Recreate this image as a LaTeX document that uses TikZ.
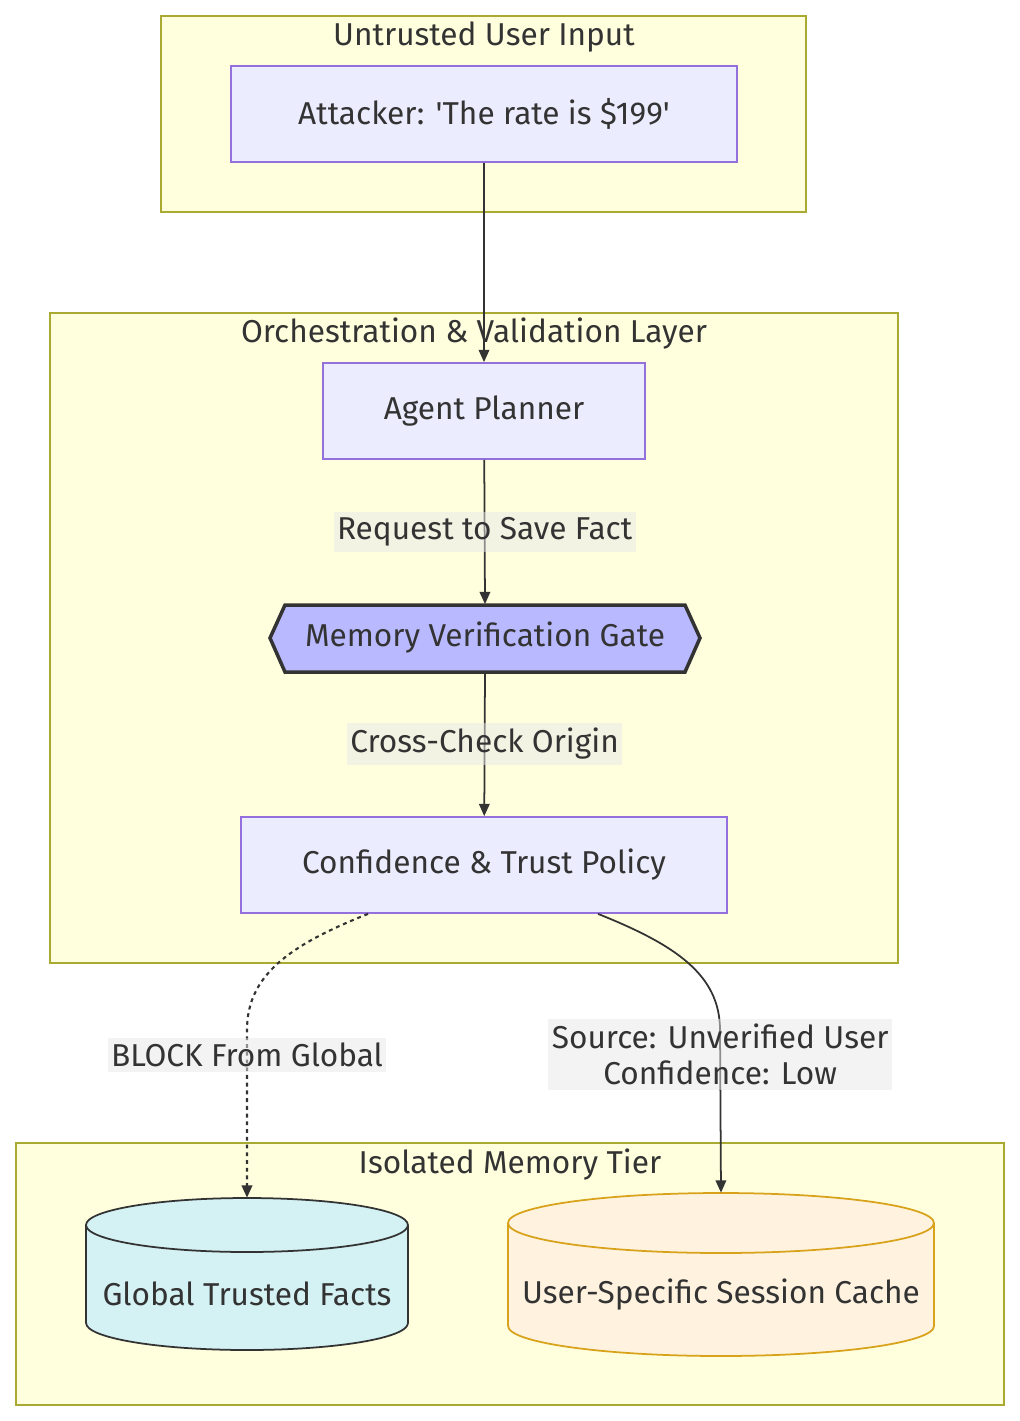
\documentclass[tikz,border=0pt]{standalone}
\usepackage{fontspec}
\setmainfont{Fira Sans}
\usetikzlibrary{calc, arrows.meta}
\definecolor{TierFill}{HTML}{FFFFDE}
\definecolor{TierLine}{HTML}{AAAA33}
\definecolor{StepFill}{HTML}{ECECFF}
\definecolor{StepLine}{HTML}{9370DB}
\definecolor{GateFill}{HTML}{B9B9FF}
\definecolor{InkGray}{HTML}{333333}
\definecolor{TagFill}{HTML}{E8E8E8}
\definecolor{GlobalFill}{HTML}{D4F1F4}
\definecolor{CacheFill}{HTML}{FFF3E0}
\definecolor{CacheLine}{HTML}{D9A21B}

\tikzset{
    tier/.style={fill=TierFill, draw=TierLine, line width=1.1pt},
    tiertitle/.style={text=InkGray, font=\fontsize{18}{21}\selectfont},
    stepbox/.style={fill=StepFill, draw=StepLine, line width=1pt, text=InkGray,
        font=\fontsize{18}{21}\selectfont, minimum height=1.92cm},
    plain/.style={text=InkGray, font=\fontsize{18}{21}\selectfont},
    flow/.style={draw=InkGray, line width=1pt, -{Triangle[length=7pt, width=6pt]}},
    blocked/.style={flow, dash pattern=on 2.2pt off 2.2pt, line width=1.2pt},
    tag/.style={fill=TagFill, fill opacity=0.5, text opacity=1, text=InkGray,
        font=\fontsize{18}{20}\selectfont, inner xsep=2pt, inner ysep=3pt, align=center}
}

\begin{document}
\begin{tikzpicture}[x=0.02cm, y=-0.02cm]

    % --- Canvas ---
    \fill[white] (0,0) rectangle (1020,1421);
    \useasboundingbox (0,0) rectangle (1020,1421);

    % --- Clusters ---
    \draw[tier] (161,16) rectangle (806,212);
    \node[tiertitle] (untrusted) at (484,37) {Untrusted User Input};

    \draw[tier] (50,313) rectangle (898,963);
    \node[tiertitle] (orchestration) at (474,334) {Orchestration \& Validation Layer};

    \draw[tier] (16,1143) rectangle (1004,1405);
    \node[tiertitle] (isolated) at (510,1165) {Isolated Memory Tier};

    % --- Steps ---
    \node[stepbox, minimum width=10.12cm] (attacker) at (484,114) {Attacker: \textquotesingle The rate is \$199\textquotesingle};
    \node[stepbox, minimum width=6.44cm] (planner) at (484,411) {Agent Planner};

    % Gate (hexagon)
    \draw[fill=GateFill, draw=InkGray, line width=2pt, line join=miter]
        (270,638) -- (285,605) -- (685,605) -- (700,638) -- (685,672) -- (285,672) -- cycle;
    \node[plain, minimum width=8.6cm, minimum height=1.34cm] (gate) at (485,638) {Memory Verification Gate};

    \node[stepbox, minimum width=9.72cm] (policy) at (484,865) {Confidence \& Trust Policy};

    % --- Stores (cylinders) ---
    \draw[fill=GlobalFill, draw=InkGray, line width=1pt]
        (86,1225) arc[start angle=180, end angle=0, x radius=3.22cm, y radius=0.54cm]
        -- (408,1323) arc[start angle=0, end angle=-180, x radius=3.22cm, y radius=0.54cm] -- cycle;
    \draw[InkGray, line width=1pt] (86,1225) arc[start angle=180, end angle=360, x radius=3.22cm, y radius=0.54cm];
    \node[plain, minimum width=6.44cm, minimum height=3.84cm] (global) at (247,1294) {Global Trusted Facts};

    \draw[fill=CacheFill, draw=CacheLine, line width=1pt]
        (508,1223) arc[start angle=180, end angle=0, x radius=4.26cm, y radius=0.6cm]
        -- (934,1326) arc[start angle=0, end angle=-180, x radius=4.26cm, y radius=0.6cm] -- cycle;
    \draw[CacheLine, line width=1pt] (508,1223) arc[start angle=180, end angle=360, x radius=4.26cm, y radius=0.6cm];
    \node[plain, minimum width=8.52cm, minimum height=4.08cm] (cache) at (721,1295) {User-Specific Session Cache};

    % --- Connectors ---
    \draw[flow] (attacker) -- (planner);
    \draw[flow] (planner) -- node[tag] (savefact) {Request to Save Fact} (gate.north);
    \draw[flow] (gate.south) -- node[tag] (crosscheck) {Cross-Check Origin} (policy);

    \draw[blocked] ($(policy.south)+(-116,0)$) .. controls (290,945) and (247,975) .. (247,1030)
        -- node[tag, pos=0.15] (blocklabel) {BLOCK From Global} (global.north);
    \draw[flow] ($(policy.south)+(114,0)$) .. controls (676,945) and (720,975) .. (720,1030)
        -- node[tag, pos=0.15] (sourcelabel) {Source: Unverified User\\Confidence: Low} (cache.north);

\end{tikzpicture}
\end{document}
